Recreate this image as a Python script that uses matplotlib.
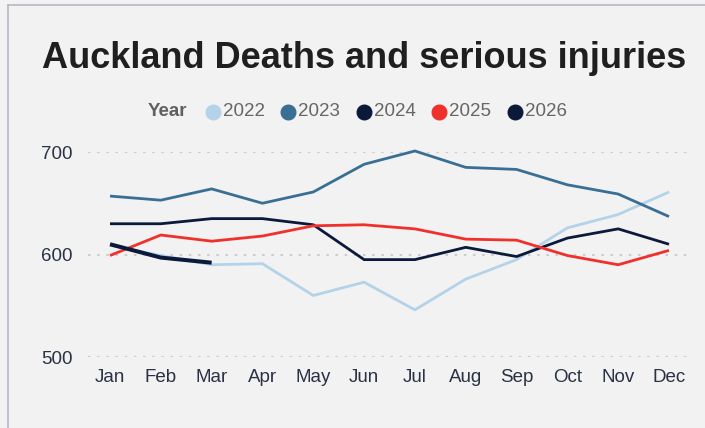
import matplotlib.pyplot as plt
from matplotlib.lines import Line2D

plt.rcParams['font.family'] = ['Liberation Sans', 'DejaVu Sans']

months = ["Jan", "Feb", "Mar", "Apr", "May", "Jun", "Jul", "Aug", "Sep", "Oct", "Nov", "Dec"]
years = ["2022", "2023", "2024", "2025", "2026"]

dsi_2022 = [609, 599, 590, 591, 560, 573, 546, 576, 595, 626, 639, 661]
dsi_2023 = [657, 653, 664, 650, 661, 688, 701, 685, 683, 668, 659, 637]
dsi_2024 = [630, 630, 635, 635, 629, 595, 595, 607, 598, 616, 625, 610]
dsi_2025 = [599, 619, 613, 618, 628, 629, 625, 615, 614, 599, 590, 604]
dsi_2026 = [610, 597, 592]

series = [dsi_2022, dsi_2023, dsi_2024, dsi_2025, dsi_2026]
colors = ["#b4d3e8", "#3a6f95", "#0b1a3b", "#f0302c", "#0b1a3b"]
widths = [2.0, 2.0, 2.0, 2.0, 2.9]

bg = "#f2f2f2"
fig = plt.figure(figsize=(7.05, 4.28), dpi=100, facecolor=bg)
ax = fig.add_axes([88 / 705, 71 / 428, 602 / 705, 205 / 428], facecolor=bg)

for vals, c, w in zip(series, colors, widths):
    ax.plot(range(len(vals)), vals, color=c, lw=w, clip_on=False,
            solid_joinstyle="round", solid_capstyle="butt")

ax.set_xlim(-0.433, 11.413)
ax.set_ylim(500, 700)
ax.set_yticks([500, 600, 700])
ax.set_xticks(range(12))
ax.set_xticklabels(months)
for s in ax.spines.values():
    s.set_visible(False)
ax.tick_params(length=0, colors="#2a3145", labelsize=13.5)
ax.tick_params(axis="y", pad=10.8)
ax.tick_params(axis="x", pad=9)
ax.grid(axis="y", color="#cccccc", linestyle=(0, (1.2, 3.2)), lw=1.5)
ax.set_axisbelow(True)

fig.text(364 / 705, 1 - 68 / 428, "Auckland Deaths and serious injuries",
         ha="center", va="baseline", fontsize=26, fontweight="bold", color="#1f1f1f")

# legend row
ly = 1 - 112 / 428
fig.text(187 / 705, ly, "Year", ha="right", va="center", fontsize=13.5,
         fontweight="bold", color="#606060")
lx = [213, 288, 364, 439, 515]
for x, yr, c in zip(lx, years, colors):
    fig.add_artist(Line2D([x / 705], [ly], marker="o", markersize=10.5,
                          color=c, linestyle="none"))
    fig.text((x + 10) / 705, ly, yr, ha="left", va="center", fontsize=13.5, color="#666666")

# frame edges
fig.add_artist(Line2D([8 / 705, 8 / 705], [0, 1 - 5 / 428], color="#b5b8c4", lw=1.2))
fig.add_artist(Line2D([8 / 705, 1], [1 - 5 / 428, 1 - 5 / 428], color="#b5b8c4", lw=1.2))

fig.savefig("out.png", dpi=100, facecolor=bg)
